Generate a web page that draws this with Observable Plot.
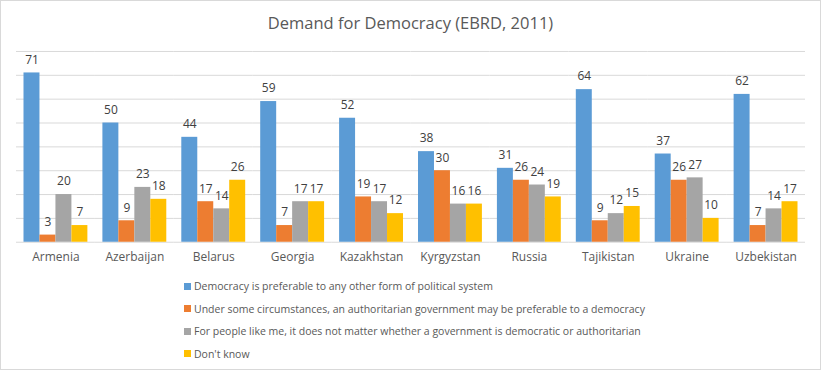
<!DOCTYPE html>
<html>
<head>
<meta charset="utf-8">
<script src="https://cdn.jsdelivr.net/npm/d3@7"></script>
<script src="https://cdn.jsdelivr.net/npm/@observablehq/plot@0.6"></script>
<style>
  html, body { margin: 0; padding: 0; background: #fff; }
  #frame { position: relative; width: 819px; height: 368px; border: 1px solid #d9d9d9; overflow: hidden; font-family: "Open Sans", sans-serif; }
  #title { position: absolute; left: 0; top: 10px; width: 819px; text-align: center; font-size: 16.5px; color: #595959; }
  #chart { position: absolute; left: -1px; top: 34px; }
  #legend { position: absolute; left: 183px; top: 274px; font-size: 10.5px; color: #595959; }
  .item { height: 22.5px; display: flex; align-items: center; }
  .sw { width: 7px; height: 7px; margin-right: 3px; display: inline-block; }
</style>
</head>
<body>
<div id="frame">
  <div id="title">Demand for Democracy (EBRD, 2011)</div>
  <div id="chart"></div>
  <div id="legend"></div>
</div>
<script>
const countries = ["Armenia","Azerbaijan","Belarus","Georgia","Kazakhstan","Kyrgyzstan","Russia","Tajikistan","Ukraine","Uzbekistan"];
const seriesNames = [
  "Democracy is preferable to any other form of political system",
  "Under some circumstances, an authoritarian government may be preferable to a democracy",
  "For people like me, it does not matter whether a government is democratic or authoritarian",
  "Don't know"
];
const democracy     = [71,50,44,59,52,38,31,64,37,62];
const authoritarian = [3,9,17,7,19,30,26,9,26,7];
const noMatter      = [20,23,14,17,17,16,24,12,27,14];
const dontKnow      = [7,18,26,17,12,16,19,15,10,17];
const gridTicks = [0,10,20,30,40,50,60,70,80];
const colors = ["#5B9BD5","#ED7D31","#A5A5A5","#FFC000"];

const seriesValues = [democracy, authoritarian, noMatter, dontKnow];
const rows = [];
countries.forEach((c, i) => {
  seriesNames.forEach((s, j) => rows.push({country: c, series: s, value: seriesValues[j][i]}));
});

const chart = Plot.plot({
  width: 821,
  height: 240,
  marginTop: 16,
  marginBottom: 33,
  marginLeft: 16,
  marginRight: 15,
  style: {fontFamily: "Open Sans, sans-serif", fontSize: "12px", color: "#595959", background: "transparent"},
  fx: {domain: countries, padding: 0, round: false, axis: "bottom", label: null, tickSize: 0, tickPadding: 10},
  x: {domain: seriesNames, axis: null, paddingInner: 0, paddingOuter: 0.47, round: false},
  y: {domain: [0, 80], axis: null},
  color: {domain: seriesNames, range: colors},
  marks: [
    Plot.ruleY(gridTicks, {stroke: "#d9d9d9", strokeWidth: 1}),
    Plot.barY(rows, {fx: "country", x: "series", y: "value", fill: "series"}),
    Plot.text(rows, {fx: "country", x: "series", y: "value", text: d => String(d.value), dy: -13, fill: "#404040", fontSize: 12})
  ]
});
document.getElementById("chart").appendChild(chart);

const legend = document.getElementById("legend");
seriesNames.forEach((s, j) => {
  const item = document.createElement("div");
  item.className = "item";
  const sw = document.createElement("span");
  sw.className = "sw";
  sw.style.background = colors[j];
  item.appendChild(sw);
  item.appendChild(document.createTextNode(s));
  legend.appendChild(item);
});
</script>
</body>
</html>
